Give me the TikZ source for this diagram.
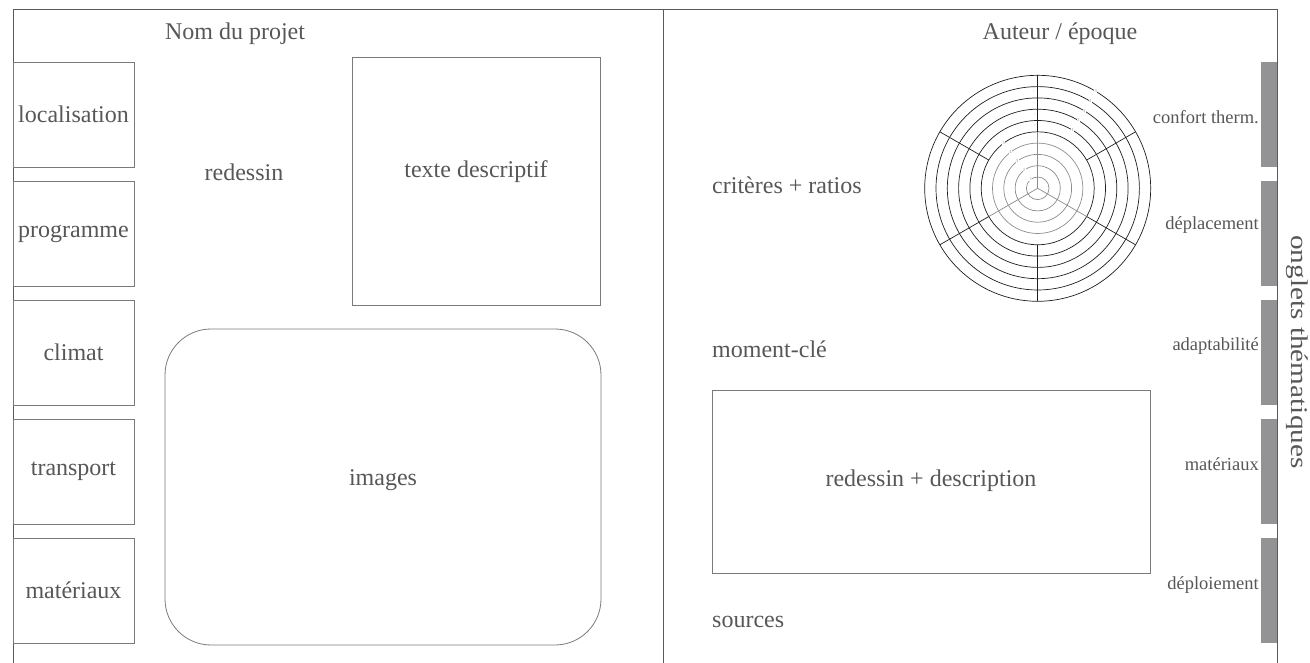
\documentclass[tikz,border=0pt]{standalone}
\usepackage{fontspec}
\setmainfont{Liberation Serif}
\newfontfamily\widefont[FakeStretch=1.22]{Liberation Serif}
\definecolor{txt}{HTML}{575757}
\definecolor{ln}{HTML}{5A5A5A}
\definecolor{bx}{HTML}{7A7A7A}
\definecolor{tabc}{HTML}{939396}
\definecolor{rk}{HTML}{1E1E1E}
\definecolor{rg}{HTML}{8C8C8C}
\tikzset{
  frameline/.style={draw=ln, line width=1pt},
  boxed/.style={draw=bx, line width=0.8pt, inner sep=0pt},
  lbl/.style={text=txt, font=\fontsize{24}{28}\selectfont, inner sep=0pt},
  tablbl/.style={text=txt, font=\fontsize{18.5}{22}\selectfont, inner sep=0pt, anchor=east},
  tabbar/.style={fill=tabc, draw=none},
  ringblack/.style={draw=rk, line width=0.7pt},
  ringgray/.style={draw=rg, line width=0.7pt},
  tinynum/.style={font=\fontsize{4.5}{5}\selectfont, fill=white, inner sep=0.3pt},
}
\begin{document}
\begin{tikzpicture}[x=1pt,y=-1pt]
\useasboundingbox (0,0) rectangle (1310,663);
% frame
\coordinate (fbl) at (13,663);
\coordinate (ftl) at (13,9.5);
\coordinate (ftr) at (1277.7,9.5);
\coordinate (fbr) at (1277.7,663);
\coordinate (mt) at (663,9.5);
\coordinate (mb) at (663,663);
\draw[frameline] (fbl) -- (ftl) -- (ftr) -- (fbr);
\draw[frameline] (mt) -- (mb);

% titles
\node[lbl, anchor=base] (nom) at (235,40) {Nom du projet};
\node[lbl, anchor=base] (auteur) at (1060,40) {Auteur / époque};

% left column boxes
\node[boxed, minimum width=121pt, minimum height=105pt, lbl] (loc) at (73.5,114.5) {localisation};
\node[boxed, minimum width=121pt, minimum height=105pt, lbl] (prog) at (73.5,233.5) {programme};
\node[boxed, minimum width=121pt, minimum height=105pt, lbl] (clim) at (73.5,352.5) {climat};
\node[boxed, minimum width=121pt, minimum height=105pt, lbl] (trans) at (73.5,471.5) {transport};
\node[boxed, minimum width=121pt, minimum height=105pt, lbl] (mat) at (73.5,590.5) {matériaux};

% left page contents
\node[lbl] (redessin) at (244,172) {redessin};
\node[boxed, minimum width=248pt, minimum height=248pt, lbl] (texte) at (476,181) {};
\node[lbl] (textelbl) at (476,172) {texte descriptif};
\node[boxed, rounded corners=46pt, minimum width=436pt, minimum height=316pt] (images) at (383,487) {};
\node[lbl] (imageslbl) at (383,480) {images};

% right page contents
\node[lbl, anchor=west] (crit) at (712,185) {critères + ratios};
\node[lbl, anchor=west] (moment) at (712,349) {moment-clé};
\node[boxed, minimum width=438pt, minimum height=183pt] (redesc) at (931,481.5) {};
\node[lbl] (redesclbl) at (931,481) {redessin + description};
\node[lbl, anchor=west] (sources) at (712,622) {sources};

% tabs
\node[tabbar, minimum width=16.7pt, minimum height=105pt, inner sep=0pt] (t1) at (1269.35,114.5) {};
\node[tabbar, minimum width=16.7pt, minimum height=105pt, inner sep=0pt] (t2) at (1269.35,233.5) {};
\node[tabbar, minimum width=16.7pt, minimum height=105pt, inner sep=0pt] (t3) at (1269.35,352.5) {};
\node[tabbar, minimum width=16.7pt, minimum height=105pt, inner sep=0pt] (t4) at (1269.35,471.5) {};
\node[tabbar, minimum width=16.7pt, minimum height=105pt, inner sep=0pt] (t5) at (1269.35,590.5) {};
\draw[frameline] (ftr) -- (fbr);
\node[tablbl] (l1) at (1259,117) {confort therm.};
\node[tablbl] (l2) at (1259,225) {déplacement};
\node[tablbl] (l3) at (1259,346) {adaptabilité};
\node[tablbl] (l4) at (1259,464) {matériaux};
\node[tablbl] (l5) at (1259,585) {déploiement};
\node[lbl, font=\widefont\fontsize{24}{28}\selectfont, rotate=-90] (onglets) at (1297,352) {onglets thématiques};

% radar
\begin{scope}[shift={(1037.7,188.3)}]
  \coordinate (rc) at (0,0);
  \foreach \k in {1,...,4} \draw[ringgray] (rc) circle[radius=\k*11.3pt];
  \foreach \k in {5,...,10} \draw[ringblack] (rc) circle[radius=\k*11.3pt];
  \foreach \a in {90,210,330} \draw[ringgray] (rc) -- (\a:56.5pt);
  \foreach \a in {30,90,150,210,270,330} \draw[ringblack] (\a:56.5pt) -- (\a:113pt);
  \foreach \k in {1,...,5} \node[tinynum, text=rg] (g\k) at (127:\k*11.3pt) {\k};
  \foreach \k in {1,...,5} \node[tinynum, text=rg] (b\k) at (59:{(\k+5)*11.3pt}) {\k};
  \foreach \k in {1,...,4} \node[tinynum, text=rg, fill=none] (v\k) at (92.5:{(\k+4.5)*11.3pt}) {-};
  \foreach \k in {1,...,4} \node[tinynum, text=rg, fill=none] (u\k) at (146:{(\k+4.5)*11.3pt}) {.};
  \foreach \k in {1,...,5} \node[tinynum, text=rg, fill=none] (w\k) at (206:{(\k+4.5)*11.3pt}) {.};
  \node[tinynum, text=rg, fill=none] (x1) at (40:{7.5*11.3pt}) {.};
  \node[tinynum, text=rg, fill=none] (x2) at (20:{9.5*11.3pt}) {.};
\end{scope}
\end{tikzpicture}
\end{document}
